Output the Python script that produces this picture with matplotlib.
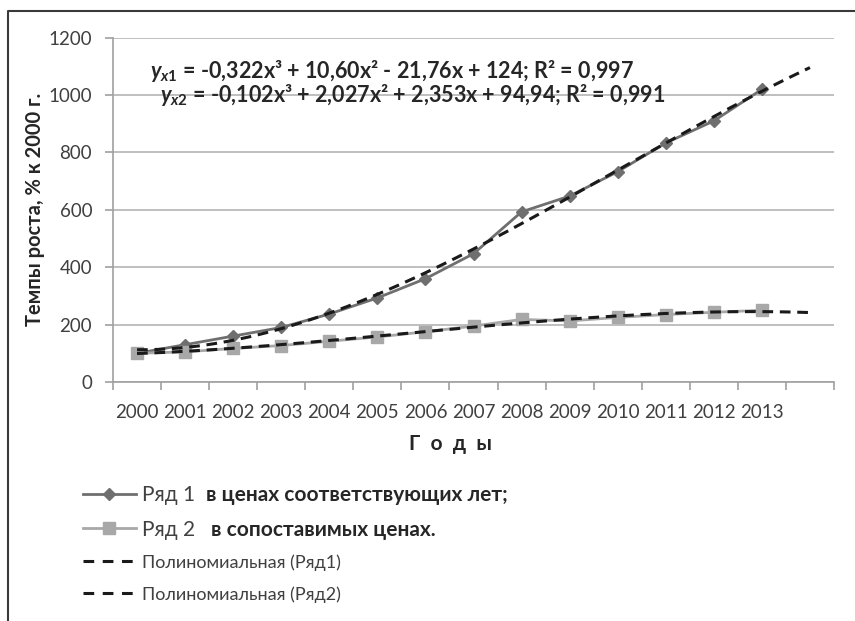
import numpy as np
import matplotlib.pyplot as plt
from matplotlib.lines import Line2D

plt.rcParams['font.family'] = ['Lato', 'DejaVu Sans']
plt.rcParams['mathtext.fontset'] = 'custom'
plt.rcParams['mathtext.rm'] = 'Lato:bold'
plt.rcParams['mathtext.it'] = 'Lato:bold:italic'
plt.rcParams['mathtext.bf'] = 'Lato:bold'

# Data
years = ['2000', '2001', '2002', '2003', '2004', '2005', '2006',
         '2007', '2008', '2009', '2010', '2011', '2012', '2013']
row1 = [100, 130, 160, 190, 237, 293, 360, 447, 593, 648, 733, 833, 910, 1020]
row2 = [100, 105, 117, 127, 142, 157, 175, 195, 218, 213, 225, 235, 243, 250]

# trendline coefficients as printed on the chart (x = 1, 2, ...)
poly1 = [-0.322, 10.60, -21.76, 124]
poly2 = [-0.102, 2.027, 2.353, 94.94]
forecast = 1  # periods forward

eq1 = r"$\mathit{y}_{\mathit{x1}}$ = -0,322x³ + 10,60x² - 21,76x + 124; R² = 0,997"
eq2 = r"$\mathit{y}_{\mathit{x2}}$ = -0,102x³ + 2,027x² + 2,353x + 94,94; R² = 0,991"

W, H = 855, 621
fig = plt.figure(figsize=(W / 100, H / 100), dpi=100)
ax = fig.add_axes([113 / W, 1 - 382 / H, 721 / W, 344.3 / H])

x = np.arange(1, len(years) + 1)
xt = np.linspace(1, len(years) + forecast, 200)

ax.plot(x, row1, color='#6f6f6f', lw=2, marker='D', ms=6,
        label='Ряд 1', zorder=3)
ax.plot(x, row2, color='#a8a8a8', lw=2, marker='s', ms=9,
        label='Ряд 2', zorder=3)
ax.plot(xt, np.polyval(poly1, xt), color='#1a1a1a', lw=2.2,
        dashes=(3.5, 2.2), label='Полиномиальная (Ряд1)', zorder=4)
ax.plot(xt, np.polyval(poly2, xt), color='#1a1a1a', lw=2.2,
        dashes=(3.5, 2.2), label='Полиномиальная (Ряд2)', zorder=4)

ax.set_xlim(0.5, len(years) + forecast + 0.5)
ax.set_ylim(0, 1200)
ax.set_yticks(range(0, 1201, 200))
ax.set_xticks(x)
ax.set_xticklabels(years)
ax.set_xticks(np.arange(0.5, len(years) + forecast + 1), minor=True)

ax.grid(axis='y', color='#b4b4b4', lw=1.2)
ax.set_axisbelow(True)
for s in ['top', 'right']:
    ax.spines[s].set_visible(False)
for s in ['left', 'bottom']:
    ax.spines[s].set_color('#a0a0a0')
    ax.spines[s].set_linewidth(1.2)

ax.tick_params(axis='x', which='major', length=0, pad=16,
               labelsize=13.5, labelcolor='#404040')
ax.tick_params(axis='x', which='minor', length=6, width=1.2,
               color='#a0a0a0', direction='out')
ax.tick_params(axis='y', length=6, width=1.2, color='#a0a0a0',
               pad=9, labelsize=13.5, labelcolor='#404040')

ax.set_ylabel('Темпы роста, % к 2000 г.', fontsize=14.5, fontweight='bold',
              color='#262626')
ax.yaxis.set_label_coords((35 - 113) / 721, 0.5)
ax.set_xlabel('Г  о  д  ы', fontsize=15, fontweight='bold', color='#262626')
ax.xaxis.set_label_coords((450 - 113) / 721, -(444 - 382) / 344.3)
ax.xaxis.label.set_va('center')
ax.yaxis.label.set_va('center')

fig.text(150 / W, 1 - 71 / H, eq1, fontsize=15.5, fontweight='bold',
         color='#262626', va='center')
fig.text(160 / W, 1 - 95 / H, eq2, fontsize=15.5, fontweight='bold',
         color='#262626', va='center')

handles, labels = ax.get_legend_handles_labels()
leg = fig.legend(handles, labels, loc='upper left',
                 bbox_to_anchor=(73 / W, 1 - 475 / H), frameon=False,
                 fontsize=15, handlelength=2.5, handletextpad=0.3,
                 labelspacing=0.68, borderpad=0)
for t in leg.get_texts()[:2]:
    t.set_color('#404040')
for t in leg.get_texts()[2:]:
    t.set_fontsize(13)
    t.set_color('#404040')
for h in leg.legend_handles[2:]:
    h.set_dashes((3.5, 2.8))

fig.canvas.draw()
bold_parts = ['в ценах соответствующих лет;', 'в сопоставимых ценах.']
bold_gap = [11, 16]
for t, txt, gap in zip(leg.get_texts()[:2], bold_parts, bold_gap):
    bb = t.get_window_extent()
    fig.text((bb.x1 + gap) / W, (bb.y0 + bb.y1) / 2 / H, txt, fontsize=15,
             fontweight='bold', color='#262626', va='center')

# outer chart frame (left and top edges visible)
fig.add_artist(Line2D([8 / W, 8 / W, 1], [0, 1 - 11 / H, 1 - 11 / H],
                      transform=fig.transFigure, color='#3a3a3a', lw=1.5))

fig.savefig('out.png', dpi=100)
